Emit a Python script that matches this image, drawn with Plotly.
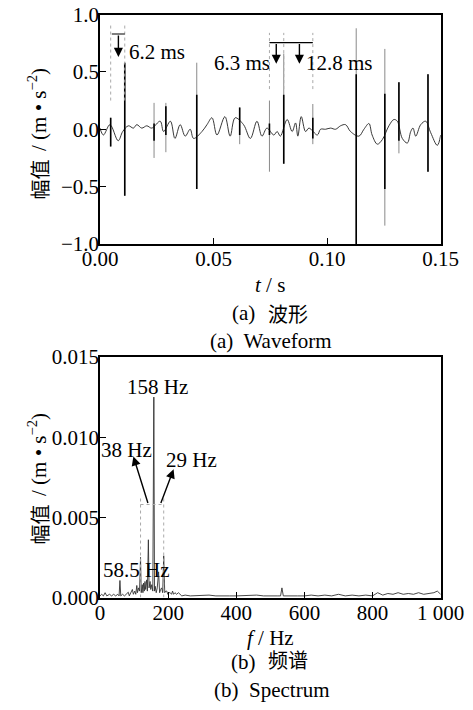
import plotly.graph_objects as go
from plotly.subplots import make_subplots

#########################################################################
# data

# (a) waveform - slow background oscillation (peaks / troughs), t in s
wave_t = [0.0000, 0.0015, 0.0044, 0.0080, 0.0100, 0.0125, 0.0147, 0.0162, 0.0184, 0.0206,
          0.0228, 0.0265, 0.0280, 0.0310, 0.0330, 0.0353, 0.0375, 0.0397, 0.0412, 0.0449,
          0.0471, 0.0493, 0.0515, 0.0550, 0.0573, 0.0595, 0.0632, 0.0662, 0.0691, 0.0713,
          0.0735, 0.0765, 0.0780, 0.0794, 0.0824, 0.0846, 0.0861, 0.0871, 0.0886, 0.0905,
          0.0920, 0.0957, 0.0971, 0.0993, 0.1015, 0.1037, 0.1059, 0.1081, 0.1103, 0.1140,
          0.1162, 0.1184, 0.1198, 0.1221, 0.1243, 0.1272, 0.1294, 0.1309, 0.1331, 0.1353,
          0.1368, 0.1378, 0.1390, 0.1412, 0.1434, 0.1456, 0.1485, 0.1500]
wave_y = [0.01, -0.05, 0.04, -0.10, -0.02, 0.03, 0.01, 0.04, 0.01, 0.03,
          0.01, 0.07, -0.02, 0.07, -0.08, 0.04, -0.06, 0.00, -0.08, -0.02,
          0.04, 0.10, -0.05, 0.11, -0.06, 0.10, 0.04, -0.08, 0.07, -0.06,
          0.01, -0.05, -0.02, -0.06, 0.085, -0.02, 0.055, -0.06, 0.11, -0.02,
          0.01, -0.05, 0.00, 0.00, 0.01, 0.00, 0.03, 0.04, -0.02, -0.06,
          0.00, 0.05, -0.05, -0.13, -0.09, 0.03, 0.085, 0.07, -0.08, -0.12,
          -0.02, 0.01, -0.06, 0.04, 0.07, -0.03, -0.14, -0.05]

# impacts: time, full extent (light) and dense core (dark)
spike_t = [0.0047, 0.0109, 0.0238, 0.0290, 0.0426, 0.0615, 0.0746, 0.0809, 0.0937,
           0.1128, 0.1254, 0.1316, 0.1444]
spike_top = [0.10, 0.58, 0.23, 0.23, 0.58, 0.19, 0.25, 0.66, 0.22, 0.88, 0.70, 0.41, 0.48]
spike_bot = [-0.15, -0.58, -0.25, -0.20, -0.52, -0.13, -0.37, -0.30, -0.13, -1.00, -0.84, -0.21, -0.37]
core_top = [0.10, 0.58, 0.05, 0.20, 0.30, 0.19, 0.05, 0.30, 0.10, 0.48, 0.31, 0.41, 0.48]
core_bot = [-0.15, -0.58, -0.10, -0.05, -0.52, -0.05, -0.05, -0.30, -0.08, -1.00, -0.52, -0.10, -0.37]

# (b) spectrum, f in Hz
spec_f = [0, 5, 10, 15, 20, 28, 34, 40, 46, 52, 56, 58.5, 61, 66, 72, 78, 83, 86, 90, 95,
          98, 102, 105, 108, 110, 113, 116, 119, 121, 124, 126, 128, 130, 132, 134, 137, 139, 142, 144, 147,
          149, 152, 155, 158, 160, 162, 165, 168, 172, 175, 178, 181, 184, 187, 190, 193, 196, 199, 203, 206,
          210, 213, 216, 220, 225, 230, 240, 250, 265, 280, 300, 320, 340, 360, 380, 400, 420, 440, 460, 480,
          500, 520, 530, 534, 538, 560, 580, 600, 620, 640, 660, 680, 700, 720, 740, 760, 780, 800, 815, 830,
          845, 860, 875, 890, 905, 920, 935, 950, 965, 980, 990, 1000]
spec_a = [0.0001, 0.0002, 0.0001, 0.0003, 0.0001, 0.0002, 0.0001, 0.0002, 0.0001, 0.0002,
          0.0001, 0.00106, 0.0001, 0.0002, 0.0001, 0.0002, 0.00033, 0.0001, 0.0003, 0.0005,
          0.0002, 0.0004, 0.0002, 0.00075, 0.0003, 0.0006, 0.0004, 0.0025, 0.0003, 0.0008,
          0.0003, 0.0009, 0.0004, 0.0010, 0.0005, 0.0011, 0.0004, 0.0036, 0.0006, 0.0010,
          0.0005, 0.0008, 0.0004, 0.0125, 0.0004, 0.0007, 0.0003, 0.0006, 0.0016, 0.0003,
          0.0005, 0.0006, 0.0003, 0.0026, 0.0003, 0.0004, 0.0004, 0.0002, 0.0003, 0.0003,
          0.0002, 0.0004, 0.0002, 0.0003, 0.0002, 0.0003, 0.0001, 0.00015, 0.0001, 0.00012,
          0.0001, 0.00015, 0.0001, 0.00012, 0.0001, 0.0001, 0.00012, 0.0001, 0.00015, 0.0001,
          0.00012, 0.0001, 0.0001, 0.0006, 0.0001, 0.00012, 0.0001, 0.0001, 0.00015, 0.0001,
          0.00015, 0.0001, 0.0002, 0.0001, 0.00015, 0.0001, 0.00015, 0.0001, 0.0003, 0.00015,
          0.00025, 0.0002, 0.0003, 0.0002, 0.00025, 0.0002, 0.0003, 0.0002, 0.00025, 0.0003,
          0.0004, 0.0002]

f_ticks = [0, 200, 400, 600, 800, 1000]
f_ticktext = ["0", "200", "400", "600", "800", "1 000"]

# annotation marks
mark_a1 = [0.0047, 0.0109]            # 6.2 ms
mark_a2 = [0.0746, 0.0809, 0.0937]    # 6.3 ms / 12.8 ms
mark_b = [119, 187]                   # sidebands of 158 Hz

#########################################################################
# figure
# the page body has an 8 px margin, so the figure is 8 px smaller than the window

W, H, OFF = 465, 702, 8


def px_x(p):
    return (p - OFF) / W


def px_y(p):
    return 1 - (p - OFF) / H


FONT = "Liberation Serif"
CJK = "Noto Sans CJK SC"

fig = make_subplots(rows=2, cols=1)

fig.add_trace(go.Scatter(x=wave_t, y=wave_y, mode='lines',
                         line={"color": "#222222", "width": 0.9, "shape": "spline"}),
              row=1, col=1)

sx, sy, cx, cy = [], [], [], []
for i in range(len(spike_t)):
    sx += [spike_t[i], spike_t[i], None]
    sy += [spike_top[i], spike_bot[i], None]
    cx += [spike_t[i], spike_t[i], None]
    cy += [core_top[i], core_bot[i], None]

fig.add_trace(go.Scatter(x=sx, y=sy, mode='lines',
                         line={"color": "#8a8a8a", "width": 1}),
              row=1, col=1)
fig.add_trace(go.Scatter(x=cx, y=cy, mode='lines',
                         line={"color": "black", "width": 1.6}),
              row=1, col=1)

fig.add_trace(go.Scatter(x=spec_f, y=spec_a, mode='lines',
                         line={"color": "#333333", "width": 0.9}),
              row=2, col=1)

axis_style = dict(showline=True, linecolor="black", linewidth=1.6, mirror=True,
                  ticks="inside", ticklen=6, tickwidth=1.4, tickcolor="black",
                  showgrid=False, zeroline=False, automargin=False,
                  ticklabeloverflow="allow",
                  tickfont=dict(family=FONT, size=21, color="black"))

fig.update_xaxes(axis_style, ticklabelstandoff=-5)
fig.update_yaxes(axis_style, ticklabelstandoff=-5)

fig.update_xaxes(range=[0, 0.15], dtick=0.05, tickformat=".2f",
                 domain=[px_x(100), px_x(440.7)], row=1, col=1)
fig.update_yaxes(range=[-1, 1], dtick=0.5, tickformat=".1f",
                 domain=[px_y(244), px_y(14.5)], row=1, col=1)
fig.update_xaxes(range=[0, 1000], tickvals=f_ticks, ticktext=f_ticktext,
                 domain=[px_x(100), px_x(440.7)], row=2, col=1)
fig.update_yaxes(range=[0, 0.015], dtick=0.005, tickformat=".3f",
                 domain=[px_y(597.5), px_y(357)], row=2, col=1)

# dotted guides and arrows
dot = dict(color="#aaaaaa", width=1, dash="dot")
shapes = []
for t in mark_a1:
    shapes.append(dict(type="line", xref="x", yref="y", x0=t, x1=t, y0=0.25, y1=0.91, line=dot))
shapes.append(dict(type="line", xref="x", yref="y", x0=mark_a1[0] + 0.0005, x1=mark_a1[1],
                   y0=0.83, y1=0.83, line=dict(color="black", width=1.2)))
for t in mark_a2:
    shapes.append(dict(type="line", xref="x", yref="y", x0=t, x1=t, y0=0.35, y1=0.84, line=dot))
shapes.append(dict(type="line", xref="x", yref="y", x0=mark_a2[0], x1=mark_a2[2],
                   y0=0.755, y1=0.755, line=dict(color="black", width=1.2)))
for f in mark_b:
    shapes.append(dict(type="line", xref="x2", yref="y2", x0=f, x1=f, y0=0, y1=0.0063, line=dot))
shapes.append(dict(type="line", xref="x2", yref="y2", x0=mark_b[0], x1=mark_b[1],
                   y0=0.0058, y1=0.0058, line=dot))

txt = dict(family=FONT, size=21, color="black")
cjk = dict(family=CJK, size=20, color="black")
ann = []


def arrow(x, y, ax, ay, xr, yr):
    return dict(x=x, y=y, ax=ax, ay=ay, xref=xr, yref=yr, axref=xr, ayref=yr,
                text="", showarrow=True, arrowhead=2, arrowsize=1.3, arrowwidth=1.4,
                arrowcolor="black")


def label(text, x, y, font, **kw):
    return dict(x=px_x(x), y=px_y(y), xref="paper", yref="paper", text=text,
                showarrow=False, font=font, **kw)


ann.append(arrow(0.0081, 0.63, 0.0081, 0.83, "x", "y"))
ann.append(arrow(0.0776, 0.57, 0.0776, 0.755, "x", "y"))
ann.append(arrow(0.0878, 0.57, 0.0878, 0.755, "x", "y"))
ann.append(arrow(98, 0.0088, 142, 0.0058, "x2", "y2"))
ann.append(arrow(216, 0.0080, 177, 0.0058, "x2", "y2"))

ann.append(dict(x=0.0117, y=0.67, xref="x", yref="y", text="6.2 ms", showarrow=False,
                xanchor="left", font=txt))
ann.append(dict(x=0.0758, y=0.58, xref="x", yref="y", text="6.3 ms", showarrow=False,
                xanchor="right", font=txt))
ann.append(dict(x=0.0900, y=0.58, xref="x", yref="y", text="12.8 ms", showarrow=False,
                xanchor="left", font=txt))
ann.append(dict(x=170, y=0.0131, xref="x2", yref="y2", text="158 Hz", showarrow=False, font=txt))
ann.append(dict(x=78, y=0.0092, xref="x2", yref="y2", text="38 Hz", showarrow=False, font=txt))
ann.append(dict(x=270, y=0.0086, xref="x2", yref="y2", text="29 Hz", showarrow=False, font=txt))
ann.append(dict(x=108, y=0.0017, xref="x2", yref="y2", text="58.5 Hz", showarrow=False, font=txt))

# y titles: Chinese part and unit part set separately
for cjk_top, unit_bottom in [(158, 153), (503, 498)]:
    ann.append(label("幅值", 22, cjk_top, cjk, textangle=-90, yanchor="top"))
    ann.append(label("/ (m • s<sup>−2</sup>)", 22, unit_bottom, txt, textangle=-90, yanchor="bottom"))

# axis titles and captions
ann.append(label("<i>t</i> / s", 270, 285, txt))
ann.append(label("(a)", 243, 313, txt))
ann.append(label("波形", 288, 313, cjk))
ann.append(label("(a)  Waveform", 271, 341, txt))
ann.append(label("<i>f</i> / Hz", 270, 652, txt))
ann.append(label("(b)", 243, 676, txt))
ann.append(label("频谱", 288, 676, cjk))
ann.append(label("(b)  Spectrum", 271, 704, txt))

fig.update_layout(width=W, height=H,
                  margin=dict(l=0, r=0, t=0, b=0),
                  paper_bgcolor="white", plot_bgcolor="white",
                  showlegend=False,
                  shapes=shapes, annotations=ann,
                  font=dict(family=FONT, color="black"))

fig.write_html("out.html")
